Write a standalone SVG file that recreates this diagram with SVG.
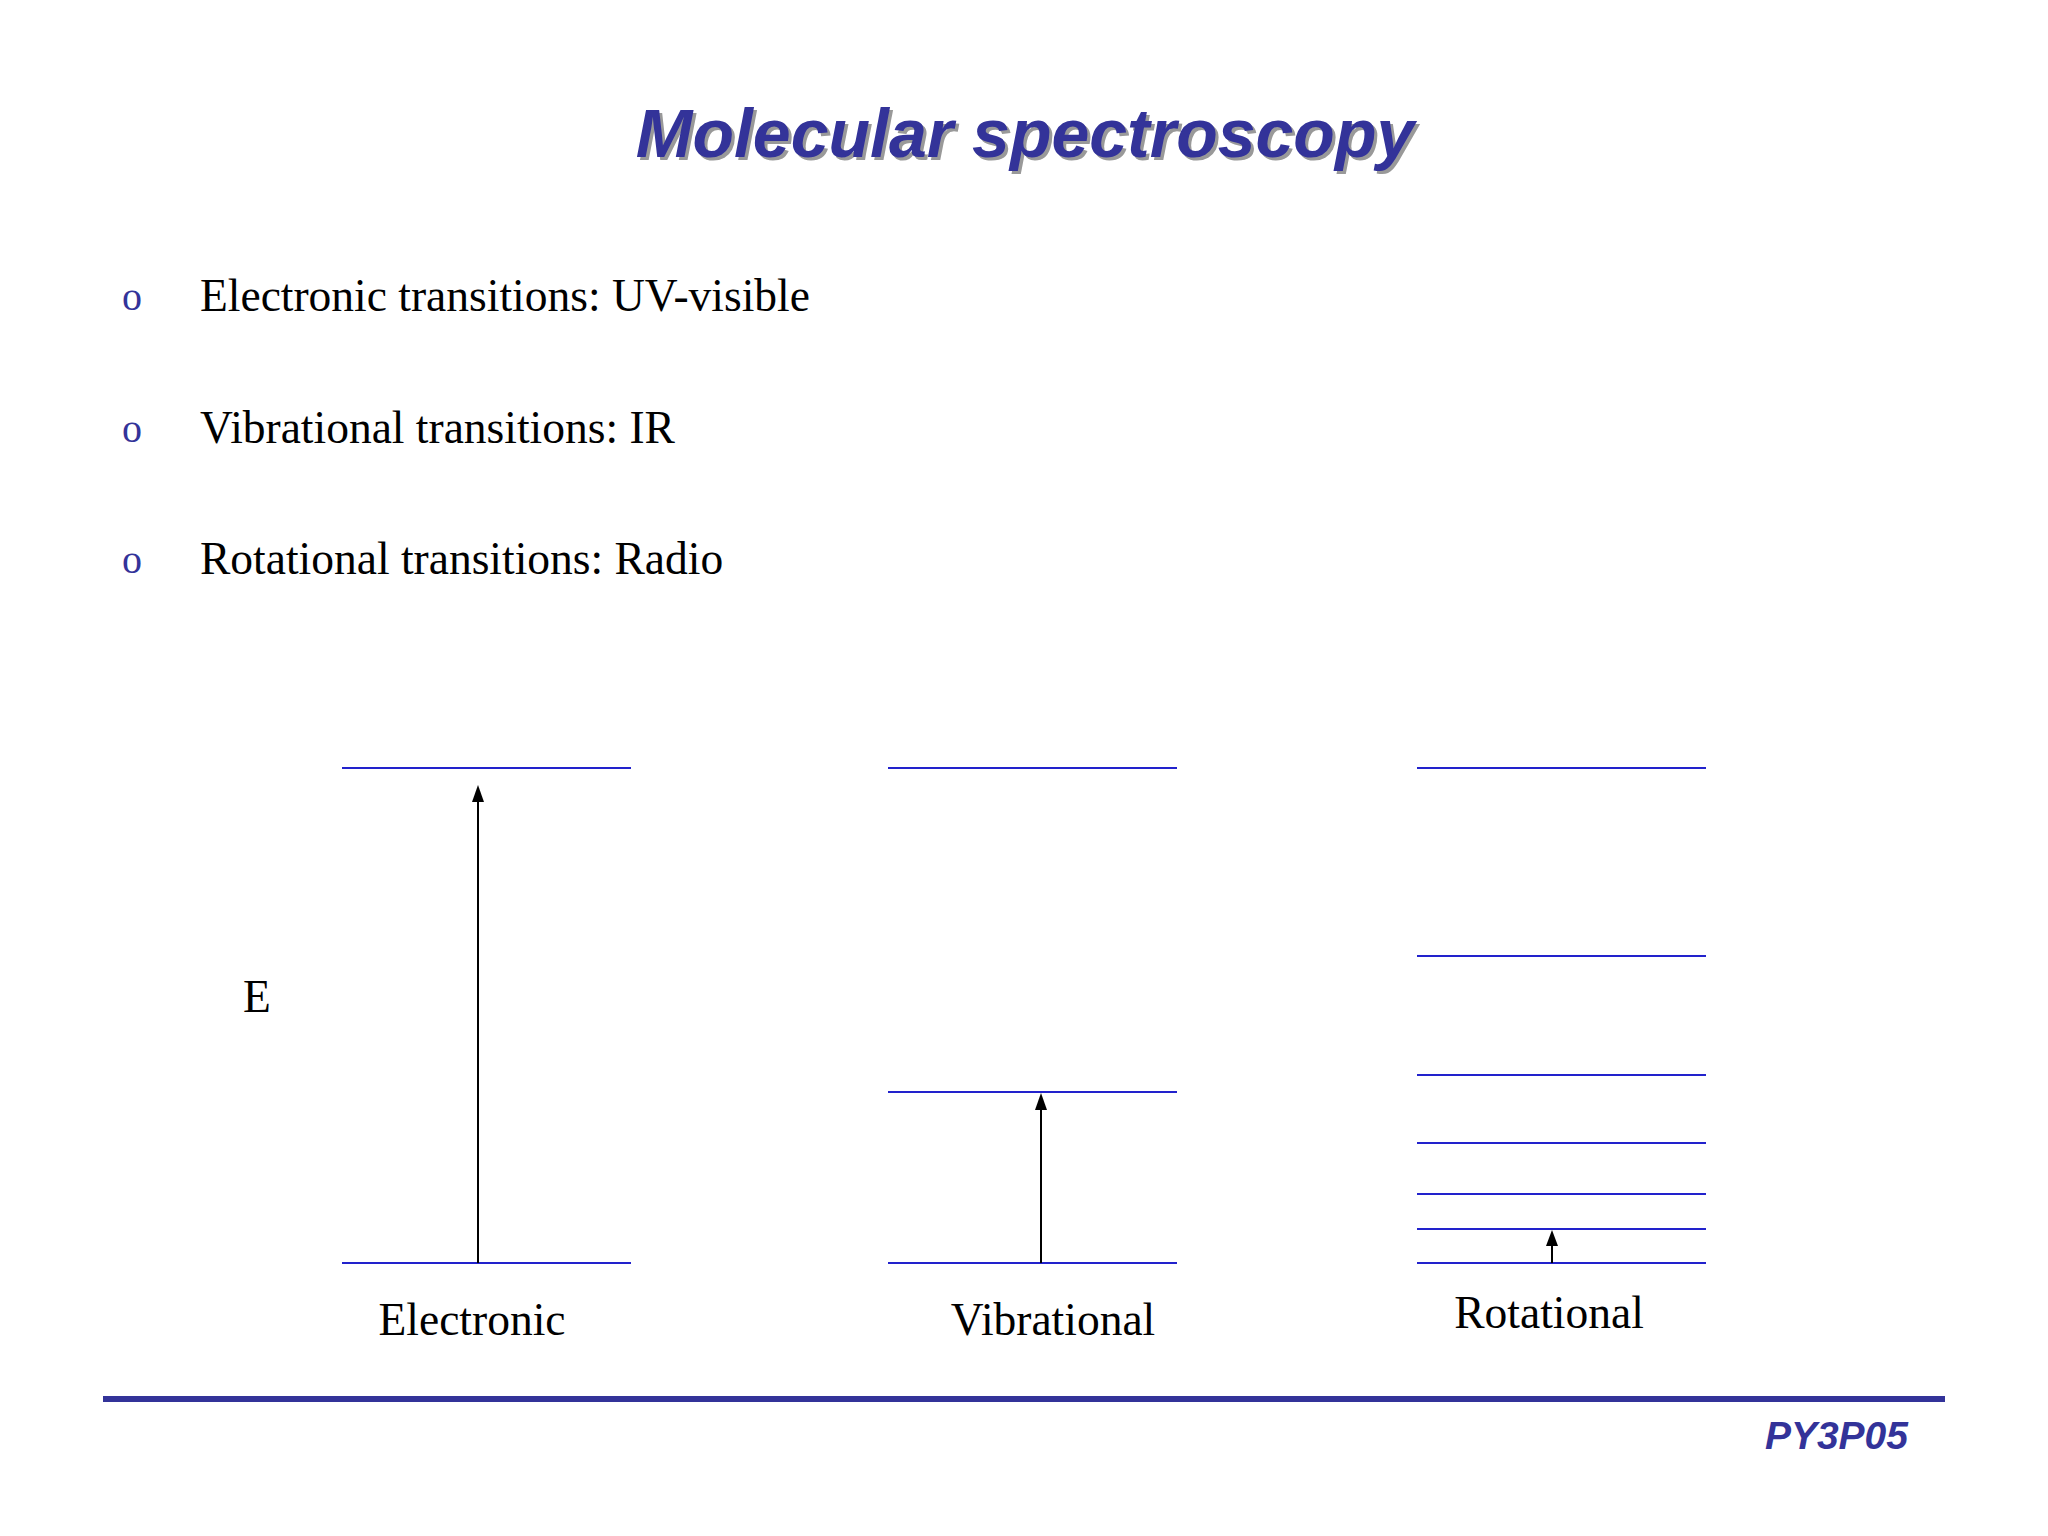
<svg xmlns="http://www.w3.org/2000/svg" width="2048" height="1536" viewBox="0 0 2048 1536">
<style>
.lvl{stroke:#2222cc;stroke-width:2}
.t{font-family:"Liberation Serif",serif;font-size:45.5px;fill:#000}
.b{font-family:"Liberation Serif",serif;font-size:40px;fill:#333399}
</style>
<rect width="2048" height="1536" fill="#fff"/>
<g id="title" font-family="Liberation Sans,sans-serif" font-size="68" font-weight="bold" font-style="italic" text-anchor="middle">
<text x="1028" y="160" fill="#999">Molecular spectroscopy</text>
<text x="1025" y="157" fill="#333399">Molecular spectroscopy</text></g>
<g id="bullets">
<text class="b" x="122" y="310">o</text><text class="t" x="200" y="311">Electronic transitions: UV-visible</text>
<text class="b" x="122" y="442">o</text><text class="t" x="200" y="443">Vibrational transitions: IR</text>
<text class="b" x="122" y="573">o</text><text class="t" x="200" y="574">Rotational transitions: Radio</text></g>
<g id="electronic"><line class="lvl" x1="342" y1="768" x2="631" y2="768"/><line class="lvl" x1="342" y1="1263" x2="631" y2="1263"/><text class="t" x="472" y="1335" text-anchor="middle">Electronic</text></g>
<g id="vibrational"><line class="lvl" x1="888" y1="768" x2="1177" y2="768"/><line class="lvl" x1="888" y1="1092" x2="1177" y2="1092"/><line class="lvl" x1="888" y1="1263" x2="1177" y2="1263"/><text class="t" x="1053" y="1335" text-anchor="middle">Vibrational</text></g>
<g id="rotational"><line class="lvl" x1="1417" y1="768" x2="1706" y2="768"/><line class="lvl" x1="1417" y1="956" x2="1706" y2="956"/><line class="lvl" x1="1417" y1="1075" x2="1706" y2="1075"/><line class="lvl" x1="1417" y1="1143" x2="1706" y2="1143"/><line class="lvl" x1="1417" y1="1194" x2="1706" y2="1194"/><line class="lvl" x1="1417" y1="1229" x2="1706" y2="1229"/><line class="lvl" x1="1417" y1="1263" x2="1706" y2="1263"/><text class="t" x="1549" y="1328" text-anchor="middle">Rotational</text></g>
<text class="t" x="243" y="1012">E</text>
<g id="connectors">
<line x1="478" y1="1263" x2="478" y2="800" stroke="#000" stroke-width="2"/><path d="M472,802 L478,785 L484,802 Z"/>
<line x1="1041" y1="1263" x2="1041" y2="1108" stroke="#000" stroke-width="2"/><path d="M1035,1110 L1041,1093 L1047,1110 Z"/>
<line x1="1552" y1="1263" x2="1552" y2="1244" stroke="#000" stroke-width="2"/><path d="M1546,1246 L1552,1230 L1558,1246 Z"/>
</g>
<line x1="103" y1="1399" x2="1945" y2="1399" stroke="#333399" stroke-width="6"/>
<text x="1908" y="1449" text-anchor="end" font-family="Liberation Sans,sans-serif" font-size="39" font-weight="bold" font-style="italic" fill="#333399">PY3P05</text>
</svg>
